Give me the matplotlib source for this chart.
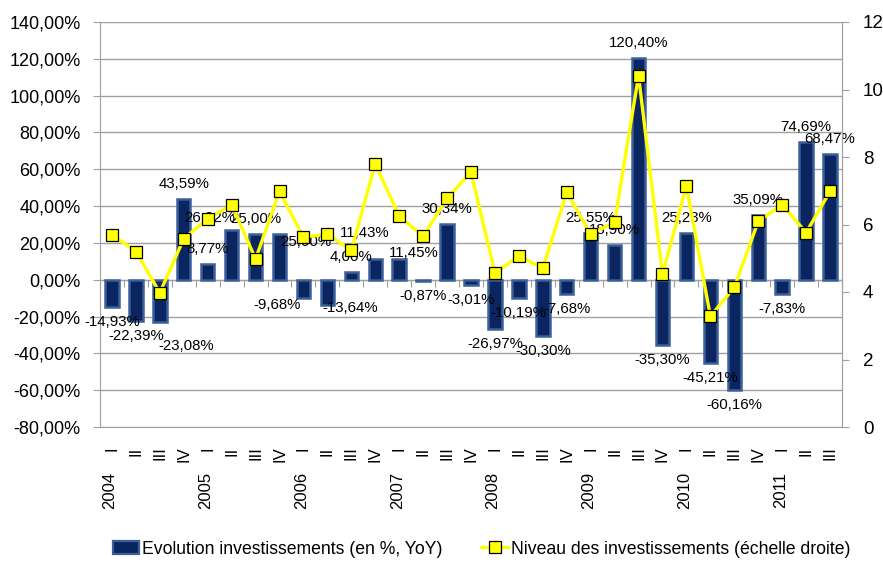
import numpy as np
import matplotlib
matplotlib.use("Agg")
import matplotlib.pyplot as plt
from matplotlib.patches import Patch
from matplotlib.lines import Line2D

plt.rcParams['font.family'] = ['Liberation Sans', 'DejaVu Sans']

# quarterly data, 2004 Q1 -> 2011 Q3
quarters = ["I", "II", "III", "IV"] * 7 + ["I", "II", "III"]
years = ["2004", "2005", "2006", "2007", "2008", "2009", "2010", "2011"]
yoy_pct = [-14.93, -22.39, -23.08, 43.59,
           8.77, 26.92, 25.00, 25.00,
           -9.68, -13.64, 4.00, 11.43,
           11.45, -0.87, 30.34, -3.01,
           -26.97, -10.19, -30.30, -7.68,
           25.55, 18.90, 120.40, -35.30,
           25.23, -45.21, -60.16, 35.09,
           -7.83, 74.69, 68.47]
level = [5.70, 5.20, 3.98, 5.58,
         6.17, 6.58, 4.98, 6.98,
         5.62, 5.72, 5.23, 7.80,
         6.24, 5.65, 6.78, 7.55,
         4.57, 5.06, 4.71, 6.95,
         5.72, 6.07, 10.41, 4.52,
         7.15, 3.28, 4.14, 6.09,
         6.59, 5.76, 6.98]

# label nudges (pixels, x right / y down) for labels that Excel had moved
label_nudge = {2: (26, 24), 5: (-22, -12), 7: (26, 8), 8: (-26, 7),
               9: (23, 3), 11: (-11, -26), 12: (15, -6)}

NAVY = "#0b2560"
EDGE = "#3a5f99"
GRID = "#a0a0a0"

x = np.arange(len(yoy_pct))

fig = plt.figure(figsize=(8.83, 5.65), dpi=100)
ax = fig.add_axes([100/883, 1-427/565, 742/883, 405/565])

ax.bar(x, yoy_pct, width=0.56, color=NAVY, edgecolor=EDGE, linewidth=1.8, zorder=2)
ax.set_xlim(-0.5, len(x) - 0.5)
ax.set_ylim(-80, 140)
yt = np.arange(-80, 141, 20)
ax.set_yticks(yt)
ax.set_yticklabels([f"{v:.2f}".replace(".", ",") + "%" for v in yt], fontsize=13)
ax.yaxis.grid(True, color=GRID, lw=1)
ax.set_axisbelow(True)
ax.spines["top"].set_visible(False)
for s in ["left", "right", "bottom"]:
    ax.spines[s].set_color(GRID)
ax.tick_params(axis="y", length=5, color=GRID, pad=9)

# roman quarter labels + years underneath
ax.set_xticks(x)
ax.set_xticklabels(quarters, rotation=90, fontsize=12, va="top")
ax.tick_params(axis="x", length=0, pad=14)
for k, yr in enumerate(years):
    ax.annotate(yr, xy=(4 * k, 0), xycoords=("data", "axes fraction"),
                xytext=(-2, -45), textcoords="offset pixels", rotation=90,
                ha="center", va="top", fontsize=12)

# category axis ticks on the zero line
zero_ax = ax.secondary_xaxis(80 / 220)
zero_ax.set_xticks(np.arange(len(x) + 1) - 0.5)
zero_ax.set_xticklabels([])
zero_ax.tick_params(axis="x", direction="out", length=5, color=GRID)
zero_ax.spines["bottom"].set_color(GRID)

# data labels
for i, v in enumerate(yoy_pct):
    dx, dy = label_nudge.get(i, (0, -15 if v >= 0 else 15))
    ax.annotate(f"{v:.2f}".replace(".", ",") + "%", xy=(i, v),
                xytext=(dx, -dy), textcoords="offset pixels",
                ha="center", va="center", fontsize=10.8, zorder=3)

ax2 = ax.twinx()
ax2.plot(x, level, color="#ffff00", lw=2.4, marker="s", ms=8,
         mfc="#ffff00", mec="black", mew=0.9, zorder=4)
ax2.set_ylim(0, 12)
ax2.set_yticks(np.arange(0, 13, 2))
ax2.tick_params(axis="y", length=5, color=GRID, labelsize=13.5, pad=10)
for s in ["top", "left", "bottom"]:
    ax2.spines[s].set_visible(False)
ax2.spines["right"].set_color(GRID)

handles = [Patch(facecolor=NAVY, edgecolor=EDGE, linewidth=1.6),
           Line2D([0], [0], color="#ffff00", lw=2.4, marker="s", ms=8,
                  mfc="#ffff00", mec="black", mew=0.9)]
labels = ["Evolution investissements (en %, YoY)",
          "Niveau des investissements (échelle droite)"]
fig.legend(handles, labels, loc="center", bbox_to_anchor=(481.5/883, 1 - 549/565),
           ncol=2, frameon=False, fontsize=12.7, handlelength=1.5,
           handletextpad=0.15, columnspacing=2.2)

fig.savefig("out.png", dpi=100)
